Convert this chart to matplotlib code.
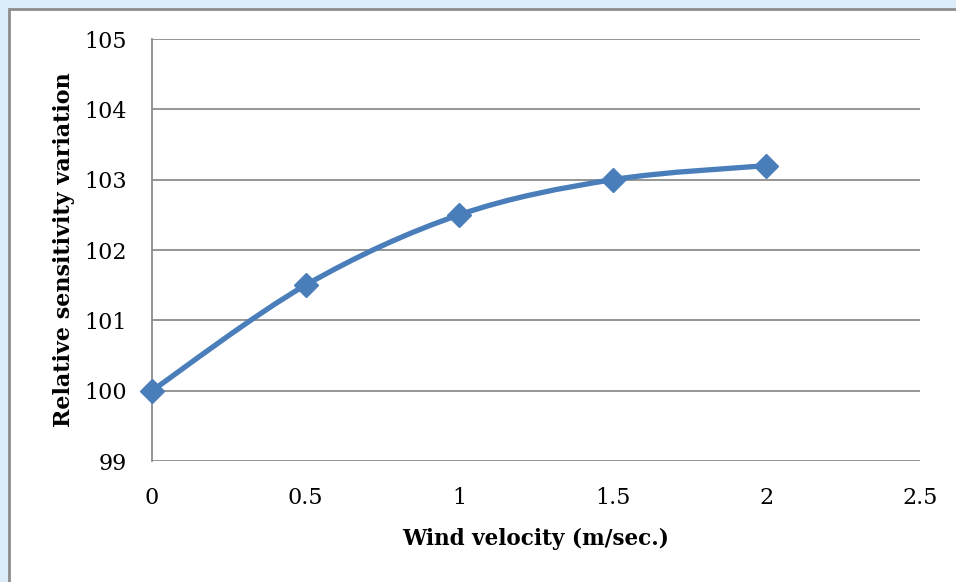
import numpy as np
import matplotlib.pyplot as plt
from matplotlib.path import Path
from matplotlib.patches import PathPatch, Rectangle

# wind velocity vs relative sensitivity
wind = [0, 0.5, 1, 1.5, 2]
sens = [100, 101.5, 102.5, 103, 103.2]

plt.rcParams['font.family'] = ['DejaVu Serif']

fig = plt.figure(figsize=(9.56, 5.82), dpi=100, facecolor='#dcedf9')

# white panel with a grey edge
fig.patches.append(Rectangle((9 / 956, -0.05), 1.0, 1 - 9 / 582 + 0.05,
                             transform=fig.transFigure, facecolor='white',
                             edgecolor='#8c8c8c', linewidth=2, zorder=-1))

ax = fig.add_axes([152 / 956, 1 - 461 / 582, (920 - 152) / 956, (461 - 39) / 582])
ax.set_facecolor('none')

# smoothed line (catmull-rom style bezier segments through the points)
pts = np.column_stack([wind, sens]).astype(float)
ext = np.vstack([pts[0], pts, pts[-1]])
verts = [tuple(pts[0])]
codes = [Path.MOVETO]
for i in range(len(pts) - 1):
    p0, p1, p2, p3 = ext[i], ext[i + 1], ext[i + 2], ext[i + 3]
    c1 = p1 + (p2 - p0) / 6
    c2 = p2 - (p3 - p1) / 6
    verts += [tuple(c1), tuple(c2), tuple(p2)]
    codes += [Path.CURVE4] * 3
ax.add_patch(PathPatch(Path(verts, codes), fill=False, edgecolor='#4a7ebb',
                       linewidth=3.8, capstyle='round', zorder=3))
ax.plot(wind, sens, linestyle='none', marker='D', markersize=12,
        color='#4a7ebb', zorder=4, clip_on=False)

ax.set_xlim(0, 2.5)
ax.set_ylim(99, 105)
ax.set_xticks([0, 0.5, 1, 1.5, 2, 2.5])
ax.set_xticklabels(['0', '0.5', '1', '1.5', '2', '2.5'])
ax.set_yticks(range(99, 106))

ax.grid(axis='y', color='#8c8c8c', linewidth=1.3)
ax.set_axisbelow(True)
for s in ['top', 'right', 'bottom']:
    ax.spines[s].set_visible(False)
ax.spines['left'].set_color('#8c8c8c')
ax.spines['left'].set_linewidth(1.3)
ax.tick_params(length=0, labelsize=16, colors='black')
ax.tick_params(axis='x', pad=19)
ax.tick_params(axis='y', pad=18)

ax.set_xlabel('Wind velocity (m/sec.)', fontsize=15.5, fontweight='bold', labelpad=13)
ax.set_ylabel('Relative sensitivity variation', fontsize=16, fontweight='bold', labelpad=7)

fig.savefig('out.png', dpi=100, facecolor=fig.get_facecolor())
